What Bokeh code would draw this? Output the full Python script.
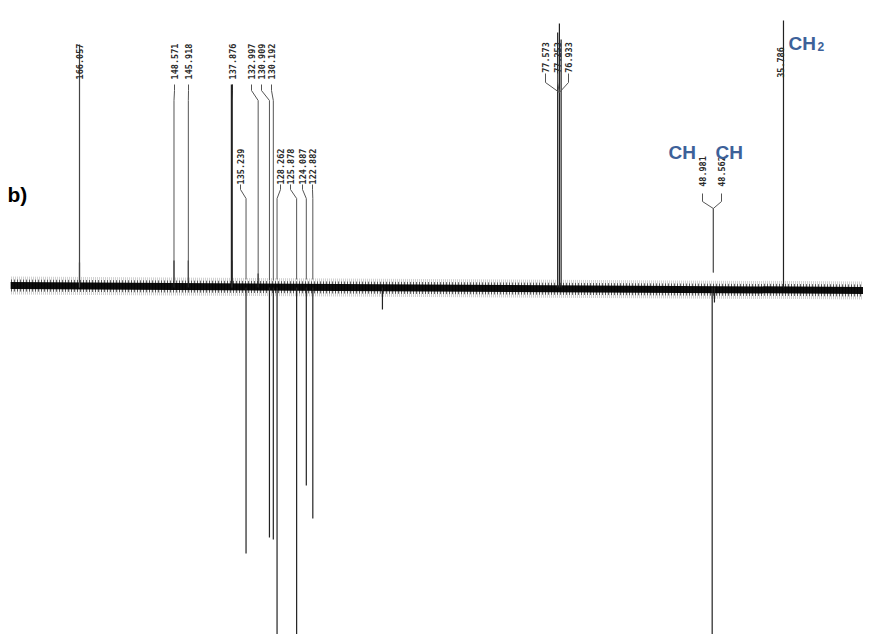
from bokeh.plotting import figure
from bokeh.models import Range1d, ColumnDataSource
from bokeh.core.properties import value
from bokeh.embed import file_html
from bokeh.resources import INLINE

# ---------------- data ----------------
# peak positions (ppm) as drawn, and intensities (arbitrary units, baseline = 0)
peak_ppm = [166.057, 148.571, 145.918, 137.876, 135.239, 132.997, 130.909, 130.192,
            129.50, 125.878, 124.087, 122.882, 110.0, 77.573, 77.253, 76.933,
            48.981, 48.562, 35.786]
peak_int = [25, 27, 27, 27, -266, 14, -250, -252,
            -365, -365, -198, -231, -22, 255, 264, 248,
            -365, -15, 267]

# printed peak labels
label_text = ["166.057", "148.571", "145.918", "137.876", "132.997", "130.909", "130.192",
              "135.239", "128.262", "125.878", "124.087", "122.882",
              "77.573", "77.253", "76.933",
              "48.981", "48.562",
              "35.786"]
label_peak_ppm = [166.057, 148.571, 145.918, 137.876, 132.997, 130.909, 130.192,
                  135.239, 129.50, 125.878, 124.087, 122.882,
                  77.253, 77.253, 77.253,
                  48.77, 48.77,
                  35.786]

# baseline drift (ppm, offset)
base_ppm = [178.8, 19.5]
base_off = [2, -3]

# ---------------- layout helpers ----------------
PX_PER_PPM = 5.404
REF_PPM, REF_PX, BASE_PY = 166.057, 79, 287


def px2ppm(px):
    return REF_PPM - (px - REF_PX) / PX_PER_PPM


def py2y(py):
    return BASE_PY - py


# label layout: (text-center y px, bracket y1, y2, y3, leader end y)
rowA = (61, 84, 90, 100, 280)
rowB = (166, 184, 189, 198, 279)
rowC = (57, 73, 82, 92, 92)
rowD = (171, 193, 201, 208, 272)
label_px = [79, 174, 188, 232, 251, 261, 271,
            240, 280, 290, 302, 312,
            545, 557, 568,
            702, 721,
            780]
label_row = [rowA] * 7 + [rowB] * 5 + [rowC] * 3 + [rowD] * 2 + [None]

W, H = 863, 634
p = figure(width=W, height=H, output_backend="svg", toolbar_location=None,
           x_range=Range1d(px2ppm(0), px2ppm(W)),
           y_range=Range1d(py2y(H), py2y(0)),
           x_axis_location=None, y_axis_location=None, min_border=0)
p.grid.visible = False
p.outline_line_color = None
p.background_fill_color = "white"
p.border_fill_color = "white"

# noise baseline band
bx = base_ppm
p.varea(x=bx, y1=[o - 9 for o in base_off], y2=[o + 9 for o in base_off],
        fill_color=None, fill_alpha=0, hatch_pattern="|", hatch_color="black",
        hatch_alpha=0.35, hatch_scale=2, hatch_weight=1)
p.varea(x=bx, y1=[o - 6 for o in base_off], y2=[o + 6 for o in base_off],
        fill_color=None, fill_alpha=0, hatch_pattern="|", hatch_color="black",
        hatch_alpha=0.6, hatch_scale=3, hatch_weight=1)
p.varea(x=bx, y1=[o - 3.5 for o in base_off], y2=[o + 3.5 for o in base_off],
        fill_color="black", fill_alpha=0.95)

# peaks
src = ColumnDataSource(dict(x=peak_ppm, y=peak_int, y0=[0] * len(peak_ppm)))
p.segment(x0="x", y0="y0", x1="x", y1="y", source=src, line_color="#222222",
          line_width=1.2)

# leader lines
xs, ys = [], []
for lx, row, pk in zip(label_px, label_row, label_peak_ppm):
    if row is None:
        continue
    _, y1, y2, y3, yend = row
    lxp = px2ppm(lx)
    xs.append([lxp, lxp, pk, pk])
    ys.append([py2y(y1), py2y(y2), py2y(y3), py2y(yend)])
p.multi_line(xs=xs, ys=ys, line_color="#555555", line_width=1)
# the 137.876 line is printed heavier
p.segment(x0=[137.876], y0=[py2y(84)], x1=[137.876], y1=[0], line_color="#222222",
          line_width=2)
p.segment(x0=[166.057], y0=[py2y(44)], x1=[166.057], y1=[0], line_color="#444444",
          line_width=1.2)

# label texts
tx = [px2ppm(lx) for lx in label_px]
ty = [py2y(r[0]) if r is not None else py2y(62) for r in label_row]
p.text(x=tx, y=ty, text=label_text, angle=1.5708, text_align="center",
       text_baseline="middle", text_font=value("DejaVu Sans Mono"),
       text_font_size="8.5px", text_font_style="bold", text_color="#2a2a2a")

# annotations
blue = "#3D6199"
p.text(x=[px2ppm(668), px2ppm(715), px2ppm(788)], y=[py2y(152), py2y(152), py2y(43)],
       text=["CH", "CH", "CH"], text_align="left", text_baseline="alphabetic",
       text_font=value("Liberation Sans"), text_font_size="19px",
       text_font_style="bold", text_color=blue)
p.text(x=[px2ppm(817)], y=[py2y(46)], text=["2"], text_align="left",
       text_baseline="alphabetic", text_font=value("Liberation Sans"),
       text_font_size="12px", text_font_style="bold", text_color=blue)
p.text(x=[px2ppm(7)], y=[py2y(194)], text=["b)"], text_align="left",
       text_baseline="alphabetic", text_font=value("Liberation Sans"),
       text_font_size="21px", text_font_style="bold", text_color="black")

open("out.html", "w").write(file_html(p, INLINE))
